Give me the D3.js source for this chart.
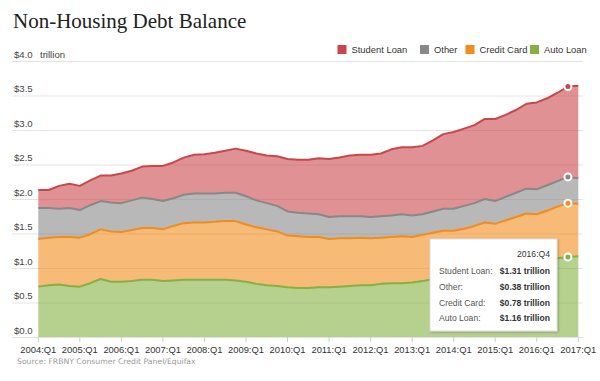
<!DOCTYPE html>
<html>
<head>
<meta charset="utf-8">
<script src="https://cdn.jsdelivr.net/npm/d3@7"></script>
<style>
  html, body { margin: 0; padding: 0; background: #fff; }
  svg { display: block; }
</style>
</head>
<body>
<svg id="chart" width="600" height="381"></svg>
<script>
// ---- data (trillions of dollars) ----
const years = d3.range(2004, 2018);
const quarters = [];
years.forEach(y => { for (let q = 1; q <= 4; q++) { if (y === 2017 && q > 1) break; quarters.push(y + ":Q" + q); } });

const autoLoan = [0.73,0.75,0.76,0.74,0.73,0.78,0.84,0.80,0.80,0.81,0.83,0.83,0.81,0.82,0.83,0.83,
  0.83,0.83,0.83,0.82,0.80,0.77,0.75,0.74,0.72,0.71,0.71,0.72,0.72,0.73,0.74,0.75,0.75,0.77,0.78,
  0.78,0.79,0.81,0.84,0.86,0.88,0.90,0.93,0.96,0.96,0.99,1.03,1.06,1.07,1.10,1.14,1.16,1.17];
const creditCard = [0.69,0.69,0.69,0.71,0.71,0.71,0.72,0.73,0.72,0.74,0.75,0.75,0.75,0.79,0.82,0.83,
  0.83,0.84,0.85,0.86,0.83,0.82,0.81,0.79,0.75,0.75,0.74,0.73,0.70,0.70,0.69,0.69,0.68,0.67,0.67,
  0.68,0.66,0.67,0.67,0.68,0.66,0.67,0.68,0.70,0.68,0.70,0.71,0.73,0.71,0.73,0.75,0.78,0.76];
const other = [0.45,0.43,0.41,0.42,0.40,0.42,0.41,0.42,0.42,0.43,0.44,0.42,0.41,0.40,0.41,0.42,
  0.42,0.41,0.41,0.41,0.41,0.39,0.38,0.37,0.35,0.34,0.34,0.33,0.32,0.32,0.32,0.31,0.31,0.31,0.31,
  0.32,0.31,0.30,0.31,0.32,0.32,0.33,0.33,0.34,0.33,0.34,0.35,0.36,0.36,0.37,0.37,0.38,0.37];
const studentLoan = [0.26,0.26,0.33,0.35,0.35,0.36,0.37,0.39,0.43,0.43,0.45,0.48,0.51,0.52,0.54,0.56,
  0.57,0.59,0.61,0.64,0.66,0.68,0.69,0.72,0.76,0.77,0.78,0.81,0.84,0.85,0.88,0.89,0.90,0.91,0.96,
  0.97,0.99,0.99,1.03,1.08,1.11,1.12,1.13,1.16,1.19,1.19,1.20,1.23,1.26,1.26,1.28,1.31,1.34];

const seriesNames = ["Auto Loan", "Credit Card", "Other", "Student Loan"];
const legendOrder = ["Student Loan", "Other", "Credit Card", "Auto Loan"];
const yTicks = [0, 0.5, 1, 1.5, 2, 2.5, 3, 3.5, 4];
const xTickLabels = years.map(y => y + ":Q1");
const highlightQuarter = "2016:Q4";

const colors = {
  "Student Loan": "#c9474b",
  "Other": "#888888",
  "Credit Card": "#f28c1c",
  "Auto Loan": "#86b043"
};

// ---- build table ----
const table = quarters.map((q, i) => ({
  q, i,
  "Auto Loan": autoLoan[i],
  "Credit Card": creditCard[i],
  "Other": other[i],
  "Student Loan": studentLoan[i]
}));

const svg = d3.select("#chart");
const x = d3.scaleLinear().domain([0, quarters.length - 1]).range([38.3, 578.3]);
const y = d3.scaleLinear().domain([0, 4]).range([337, 61]);

const FONT = "'Liberation Sans', Arial, sans-serif";

// title
svg.append("text").attr("x", 13).attr("y", 28)
  .attr("font-family", "'Liberation Serif', Georgia, serif")
  .attr("font-size", 21).attr("fill", "#222")
  .text("Non-Housing Debt Balance");

// gridlines + y labels
const grid = svg.append("g");
grid.selectAll("line").data(yTicks).join("line")
  .attr("x1", 12).attr("x2", 583)
  .attr("y1", d => y(d) + 0.5).attr("y2", d => y(d) + 0.5)
  .attr("stroke", "#e3e3e3").attr("stroke-width", 1);
grid.selectAll("text").data(yTicks).join("text")
  .attr("x", 14).attr("y", d => y(d) - 3.5)
  .attr("font-family", FONT).attr("font-size", 9.6).attr("fill", "#444")
  .text(d => "$" + d3.format(".1f")(d));
svg.append("text").attr("x", 40).attr("y", y(4) - 3.5)
  .attr("font-family", FONT).attr("font-size", 9.6).attr("fill", "#444")
  .text("trillion");

// stacked areas
const stack = d3.stack().keys(seriesNames);
const layers = stack(table);
const area = d3.area().x(d => x(d.data.i)).y0(d => y(d[0])).y1(d => y(d[1]));
const line = d3.line().x(d => x(d.data.i)).y(d => y(d[1]));

const plot = svg.append("g");
plot.selectAll("path.area").data(layers).join("path")
  .attr("class", "area")
  .attr("d", area)
  .attr("fill", d => colors[d.key]).attr("fill-opacity", 0.6);
plot.selectAll("path.line").data(layers).join("path")
  .attr("class", "line")
  .attr("d", line)
  .attr("fill", "none").attr("stroke", d => colors[d.key]).attr("stroke-width", 2)
  .attr("stroke-linejoin", "round");

// x axis ticks + labels
const xAxisG = svg.append("g");
const tickIdx = xTickLabels.map(l => quarters.indexOf(l));
xAxisG.selectAll("line").data(tickIdx).join("line")
  .attr("x1", d => x(d)).attr("x2", d => x(d))
  .attr("y1", 337).attr("y2", 342)
  .attr("stroke", "#ccc");
xAxisG.selectAll("text").data(tickIdx).join("text")
  .attr("x", d => x(d)).attr("y", 353)
  .attr("text-anchor", "middle")
  .attr("font-family", FONT).attr("font-size", 9.4).attr("fill", "#333")
  .text(d => quarters[d]);

// legend
const legendX = { "Student Loan": 337.5, "Other": 420, "Credit Card": 465.5, "Auto Loan": 530 };
const lg = svg.append("g");
legendOrder.forEach(k => {
  lg.append("rect").attr("x", legendX[k]).attr("y", 45).attr("width", 9).attr("height", 9)
    .attr("fill", colors[k]);
  lg.append("text").attr("x", legendX[k] + 14).attr("y", 53)
    .attr("font-family", FONT).attr("font-size", 9.4).attr("fill", "#333")
    .text(k);
});

// highlight markers
const hi = quarters.indexOf(highlightQuarter);
plot.selectAll("circle").data(layers).join("circle")
  .attr("cx", x(hi)).attr("cy", d => y(d[hi][1])).attr("r", 3.5)
  .attr("fill", d => colors[d.key]).attr("stroke", "#fff").attr("stroke-width", 2);

// tooltip
const defs = svg.append("defs");
const f = defs.append("filter").attr("id", "shadow").attr("x", "-10%").attr("y", "-10%").attr("width", "130%").attr("height", "130%");
f.append("feDropShadow").attr("dx", 1).attr("dy", 1).attr("stdDeviation", 1.2).attr("flood-color", "#000").attr("flood-opacity", 0.25);

const tt = svg.append("g");
tt.append("rect").attr("x", 430).attr("y", 239).attr("width", 127).attr("height", 92)
  .attr("fill", "#fff").attr("stroke", "#ddd").attr("filter", "url(#shadow)");
tt.append("text").attr("x", 550).attr("y", 257).attr("text-anchor", "end")
  .attr("font-family", FONT).attr("font-size", 8.6).attr("fill", "#333")
  .text(highlightQuarter);
legendOrder.forEach((k, j) => {
  const ty = 274 + j * 15.8;
  tt.append("text").attr("x", 439).attr("y", ty)
    .attr("font-family", FONT).attr("font-size", 8.6).attr("fill", "#555")
    .text(k + ":");
  tt.append("text").attr("x", 550).attr("y", ty).attr("text-anchor", "end")
    .attr("font-family", FONT).attr("font-size", 8.6).attr("font-weight", "bold").attr("fill", "#333")
    .text("$" + d3.format(".2f")(table[hi][k]) + " trillion");
});

// source
svg.append("text").attr("x", 17).attr("y", 364)
  .attr("font-family", "'DejaVu Sans', Verdana, sans-serif").attr("font-size", 7.7).attr("fill", "#9a9a9a")
  .text("Source: FRBNY Consumer Credit Panel/Equifax");
</script>
</body>
</html>
